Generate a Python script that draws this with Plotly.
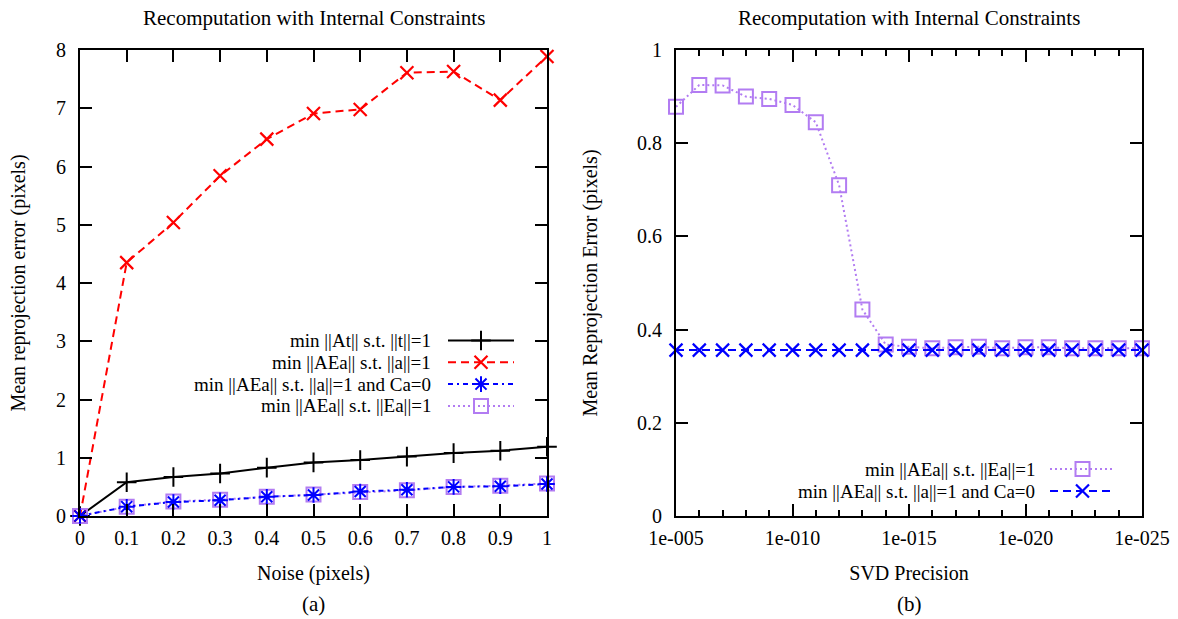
import plotly.graph_objects as go

# ---------------- data ----------------
noise = [0, 0.1, 0.2, 0.3, 0.4, 0.5, 0.6, 0.7, 0.8, 0.9, 1.0]
err_At = [0, 0.58, 0.67, 0.73, 0.83, 0.92, 0.96, 1.02, 1.08, 1.12, 1.19]
err_AEa_a = [0, 4.35, 5.04, 5.84, 6.47, 6.91, 6.98, 7.61, 7.63, 7.14, 7.89]
err_AEa_Ca = [0, 0.16, 0.24, 0.27, 0.33, 0.36, 0.42, 0.45, 0.50, 0.51, 0.55]
err_AEa_Ea = [0, 0.16, 0.25, 0.28, 0.33, 0.37, 0.41, 0.44, 0.50, 0.52, 0.56]

precision = [1e-5, 1e-6, 1e-7, 1e-8, 1e-9, 1e-10, 1e-11, 1e-12, 1e-13, 1e-14, 1e-15,
             1e-16, 1e-17, 1e-18, 1e-19, 1e-20, 1e-21, 1e-22, 1e-23, 1e-24, 1e-25]
svd_Ea = [0.878, 0.925, 0.924, 0.900, 0.895, 0.882, 0.845, 0.710, 0.443, 0.368, 0.363,
          0.360, 0.362, 0.363, 0.360, 0.362, 0.362, 0.360, 0.360, 0.360, 0.360]
svd_Ca = [0.356] * 21

prec_ticks = [1e-5, 1e-10, 1e-15, 1e-20, 1e-25]
prec_labels = ["1e-005", "1e-010", "1e-015", "1e-020", "1e-025"]
prec_minor = [p for p in precision if p not in prec_ticks]

labels_a = ["min ||At|| s.t. ||t||=1",
            "min ||AEa|| s.t. ||a||=1",
            "min ||AEa|| s.t. ||a||=1 and Ca=0",
            "min ||AEa|| s.t. ||Ea||=1"]
labels_b = ["min ||AEa|| s.t. ||Ea||=1",
            "min ||AEa|| s.t. ||a||=1 and Ca=0"]

# ---------------- styles ----------------
W, H = 1178, 619
FONT = "Liberation Serif"
FS = 20          # ticks and axis titles
FS_TITLE = 21    # panel titles and captions
FS_KEY = 19      # key text
BLACK, RED, BLUE, PURPLE = "#000000", "#ff0000", "#0000ff", "#b27cf2"

sty_At = dict(line=dict(color=BLACK, width=2),
              marker=dict(symbol="cross-thin-open", size=14, color=BLACK,
                          line=dict(width=2, color=BLACK)))
sty_a = dict(line=dict(color=RED, width=2, dash="8px,5px"),
             marker=dict(symbol="x-thin-open", size=13, color=RED,
                         line=dict(width=2.2, color=RED)))
sty_Ca = dict(line=dict(color=BLUE, width=2, dash="5px,4px,2px,4px"),
              marker=dict(symbol="asterisk-open", size=13, color=BLUE,
                          line=dict(width=2, color=BLUE)))
sty_Ea = dict(line=dict(color=PURPLE, width=2, dash="2px,3px"),
              marker=dict(symbol="square-open", size=14, color=PURPLE,
                          line=dict(width=2, color=PURPLE)))
sty_Ca_b = dict(line=dict(color=BLUE, width=2, dash="8px,5px"),
                marker=dict(symbol="x-thin-open", size=13, color=BLUE,
                            line=dict(width=2.2, color=BLUE)))

fig = go.Figure()

def add(x, y, sty, xa, ya):
    fig.add_trace(go.Scatter(x=x, y=y, mode="lines+markers", xaxis=xa, yaxis=ya,
                             showlegend=False, cliponaxis=False, **sty))

# panel (a)
add(noise, err_At, sty_At, "x", "y")
add(noise, err_AEa_a, sty_a, "x", "y")
add(noise, err_AEa_Ea, sty_Ea, "x", "y")
add(noise, err_AEa_Ca, sty_Ca, "x", "y")
# panel (b)
add(precision, svd_Ea, sty_Ea, "x2", "y2")
add(precision, svd_Ca, sty_Ca_b, "x2", "y2")

# ---------------- key boxes (text on the left, sample on the right) ----------------
annotations = []

def key(rows, styles, x_text, x0, x1, y_rows):
    for lab, sty, yk in zip(rows, styles, y_rows):
        annotations.append(dict(x=x_text, y=yk, xref="x3", yref="y3", text=lab,
                                showarrow=False, xanchor="right", yanchor="middle",
                                font=dict(family=FONT, size=FS_KEY, color="black")))
        fig.add_trace(go.Scatter(x=[x0, x1], y=[yk, yk], mode="lines", xaxis="x3", yaxis="y3",
                                 line=sty["line"], showlegend=False, hoverinfo="skip",
                                 cliponaxis=False))
        fig.add_trace(go.Scatter(x=[(x0 + x1) / 2], y=[yk], mode="markers", xaxis="x3",
                                 yaxis="y3", marker=sty["marker"], showlegend=False,
                                 hoverinfo="skip", cliponaxis=False))

key(labels_a, [sty_At, sty_a, sty_Ca, sty_Ea], 433, 448, 514, [340.5, 362.3, 384.1, 405.9])
key(labels_b, [sty_Ea, sty_Ca_b], 1037, 1050, 1115, [469, 491])

# ---------------- axes ----------------
L0, L1, R0, R1, TOP, BOT = 80, 547, 676, 1142, 50, 516
ydom = [1 - BOT / H, 1 - TOP / H]

axis_common = dict(showline=True, linecolor="black", linewidth=2, mirror="ticks",
                   ticks="inside", ticklen=12, tickwidth=2, tickcolor="black",
                   showgrid=False, zeroline=False, automargin=False,
                   tickfont=dict(family=FONT, size=FS, color="black"),
                   title_font=dict(family=FONT, size=FS, color="black"))

fig.update_layout(
    width=W, height=H, margin=dict(l=0, r=0, t=0, b=0, autoexpand=False),
    paper_bgcolor="white", plot_bgcolor="rgba(0,0,0,0)",
    font=dict(family=FONT, size=FS, color="black"),
    xaxis=dict(domain=[L0 / W, L1 / W], range=[0, 1], tickvals=noise,
               ticktext=["0", "0.1", "0.2", "0.3", "0.4", "0.5", "0.6", "0.7", "0.8", "0.9", "1"],
               title=dict(text="Noise (pixels)", standoff=18), anchor="y",
               ticklabelstandoff=3, **axis_common),
    yaxis=dict(domain=ydom, range=[0, 8], dtick=1,
               title=dict(text="Mean reprojection error (pixels)", standoff=25), anchor="x",
               ticklabelstandoff=8, **axis_common),
    xaxis2=dict(domain=[R0 / W, R1 / W], type="log", range=[-5, -25], tickvals=prec_ticks,
                ticktext=prec_labels, title=dict(text="SVD Precision", standoff=18), anchor="y2",
                ticklabelstandoff=3,
                minor=dict(tickvals=prec_minor, ticks="inside", ticklen=6, tickwidth=2,
                           tickcolor="black", showgrid=False),
                **axis_common),
    yaxis2=dict(domain=ydom, range=[0, 1], dtick=0.2, tickformat="~g",
                title=dict(text="Mean Reprojection Error (pixels)", standoff=34), anchor="x2",
                ticklabelstandoff=8, **axis_common),
    xaxis3=dict(domain=[0, 1], range=[0, W], visible=False, anchor="y3", fixedrange=True),
    yaxis3=dict(domain=[0, 1], range=[H, 0], visible=False, anchor="x3", fixedrange=True),
)

# panel titles and captions
for cx, cap in [((L0 + L1) / 2, "(a)"), ((R0 + R1) / 2, "(b)")]:
    annotations.append(dict(x=cx, y=18, xref="x3", yref="y3", showarrow=False,
                            text="Recomputation with Internal Constraints",
                            xanchor="center", yanchor="middle",
                            font=dict(family=FONT, size=FS_TITLE, color="black")))
    annotations.append(dict(x=cx, y=604, xref="x3", yref="y3", showarrow=False, text=cap,
                            xanchor="center", yanchor="middle",
                            font=dict(family=FONT, size=FS_TITLE, color="black")))

fig.update_layout(annotations=annotations)
fig.write_html("out.html")
